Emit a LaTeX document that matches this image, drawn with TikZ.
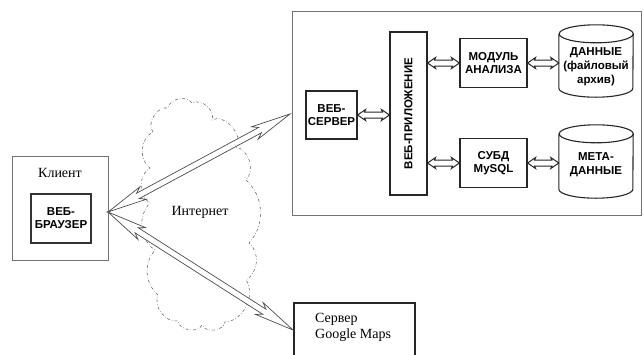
\documentclass[tikz,border=0pt]{standalone}
\usepackage{fontspec}
\setmainfont{Liberation Serif}
\newfontfamily\lsans{Liberation Sans}
\usetikzlibrary{calc}

% #1 start, #2 end, #3 head length, #4 notch distance, #5 head half width, #6 shaft half width
\newcommand\hollowarrow[6]{%
  \draw[harrow] (#1)
    -- ($($(#1)!#3!(#2)$)!#5!90:(#2)$)
    -- ($($(#1)!#4!(#2)$)!#6!90:(#2)$)
    -- ($($(#2)!#4!(#1)$)!#6!-90:(#1)$)
    -- ($($(#2)!#3!(#1)$)!#5!-90:(#1)$)
    -- (#2)
    -- ($($(#2)!#3!(#1)$)!#5!90:(#1)$)
    -- ($($(#2)!#4!(#1)$)!#6!90:(#1)$)
    -- ($($(#1)!#4!(#2)$)!#6!-90:(#2)$)
    -- ($($(#1)!#3!(#2)$)!#5!-90:(#2)$)
    -- cycle;}

\tikzset{
  frame/.style={draw=black!55, line width=0.9pt, inner sep=0pt},
  box/.style={draw=black!85, line width=1.1pt, inner sep=0pt, align=center,
    font=\lsans\bfseries\fontsize{11.5}{13}\selectfont},
  cyltext/.style={inner sep=0pt, align=center,
    font=\lsans\bfseries\fontsize{11.5}{14}\selectfont},
  cyl/.style={draw=black!85, line width=1.1pt},
  harrow/.style={draw=black!70, fill=white, line width=0.7pt, line join=miter},
  serif/.style={inner sep=0pt, align=left, font=\fontsize{14}{16}\selectfont},
  cloudline/.style={draw=black!60, line width=0.55pt, dash dot},
}

\begin{document}
\begin{tikzpicture}[x=1pt,y=-1pt]
\path[use as bounding box] (0,0) rectangle (644,354);
\clip (0,0) rectangle (644,354);

% Internet cloud
\draw[cloudline] (153,132)
  to[bend left=70] (168,108)
  to[bend left=70] (192,103)
  to[bend left=70] (212,120)
  to[bend left=80] (236,147)
  to[bend left=60] (246,180)
  to[bend left=45] (249,243)
  to[bend left=55] (246,280)
  to[bend left=60] (225,322)
  to[bend left=75] (202,325)
  to[bend left=75] (178,321)
  to[bend left=60] (158,295)
  to[bend left=45] (155,250)
  to[bend left=50] (150,203)
  to[bend left=60] (150,168)
  to[bend left=60] cycle;
\node[serif] (inet) at (200,212) {Интернет};

% client
\node[frame, minimum width=96pt, minimum height=104pt] (client) at (60,208) {};
\node[serif] (clientlbl) at (60,173) {Клиент};
\node[box, draw=black!80, line width=1.8pt, minimum width=60pt, minimum height=49pt] (browser) at (61,218.5) {ВЕБ-\\БРАУЗЕР};

% server side
\node[frame, minimum width=349pt, minimum height=204pt] (big) at (466.5,113) {};
\node[box, minimum width=51pt, minimum height=48pt] (server) at (331.5,115) {ВЕБ-\\СЕРВЕР};
\node[box, minimum width=37pt, minimum height=163pt] (app) at (408.5,113.5) {};
\node[box, draw=none, rotate=90] (applbl) at (app.center) {ВЕБ-ПРИЛОЖЕНИЕ};
\node[box, minimum width=67pt, minimum height=49pt] (mod) at (493.5,63) {МОДУЛЬ\\АНАЛИЗА};
\node[box, minimum width=67pt, minimum height=49pt] (dbms) at (493.5,163) {СУБД\\MySQL};

\node[minimum width=74pt, minimum height=72pt, inner sep=0pt] (data) at (596,61) {};
\draw[cyl] ([yshift=-9pt]data.north west) -- ([yshift=9pt]data.south west)
  arc[start angle=180, end angle=360, x radius=37pt, y radius=9pt]
  -- ([yshift=-9pt]data.north east)
  arc[start angle=0, end angle=360, x radius=37pt, y radius=9pt];
\node[cyltext] (datalbl) at (596,67) {ДАННЫЕ\\(файловый\\архив)};

\node[minimum width=74pt, minimum height=73pt, inner sep=0pt] (meta) at (596,161.5) {};
\draw[cyl] ([yshift=-9pt]meta.north west) -- ([yshift=9pt]meta.south west)
  arc[start angle=180, end angle=360, x radius=37pt, y radius=9pt]
  -- ([yshift=-9pt]meta.north east)
  arc[start angle=0, end angle=360, x radius=37pt, y radius=9pt];
\node[cyltext] (metalbl) at (596,164.5) {МЕТА-\\ДАННЫЕ};

% Google Maps
\node[draw=black!85, line width=1.6pt, minimum width=121pt, minimum height=70pt, anchor=north west, inner sep=0pt] (google) at (293,302) {};
\node[serif, anchor=north west] (googlelbl) at (315,313) {Сервер\\Google Maps};

% connectors
\coordinate (cl) at (108,212);
\coordinate (wsend) at (290,114);
\coordinate (gmend) at (293,330);
\hollowarrow{cl}{wsend}{40pt}{34pt}{7pt}{3pt}
\hollowarrow{cl}{gmend}{40pt}{34pt}{7pt}{3pt}

\coordinate (a1) at (app.west |- server.east);
\coordinate (a2) at (app.east |- mod.west);
\coordinate (a3) at (app.east |- dbms.west);
\coordinate (a4) at (data.west |- mod.east);
\coordinate (a5) at (meta.west |- dbms.east);
\tikzset{harrow/.append style={draw=black!85, line width=1pt}}
\hollowarrow{server.east}{a1}{8pt}{7pt}{5.5pt}{3pt}
\hollowarrow{a2}{mod.west}{8pt}{7pt}{5.5pt}{3pt}
\hollowarrow{a3}{dbms.west}{8pt}{7pt}{5.5pt}{3pt}
\hollowarrow{mod.east}{a4}{8pt}{7pt}{5.5pt}{3pt}
\hollowarrow{dbms.east}{a5}{8pt}{7pt}{5.5pt}{3pt}
\end{tikzpicture}
\end{document}
